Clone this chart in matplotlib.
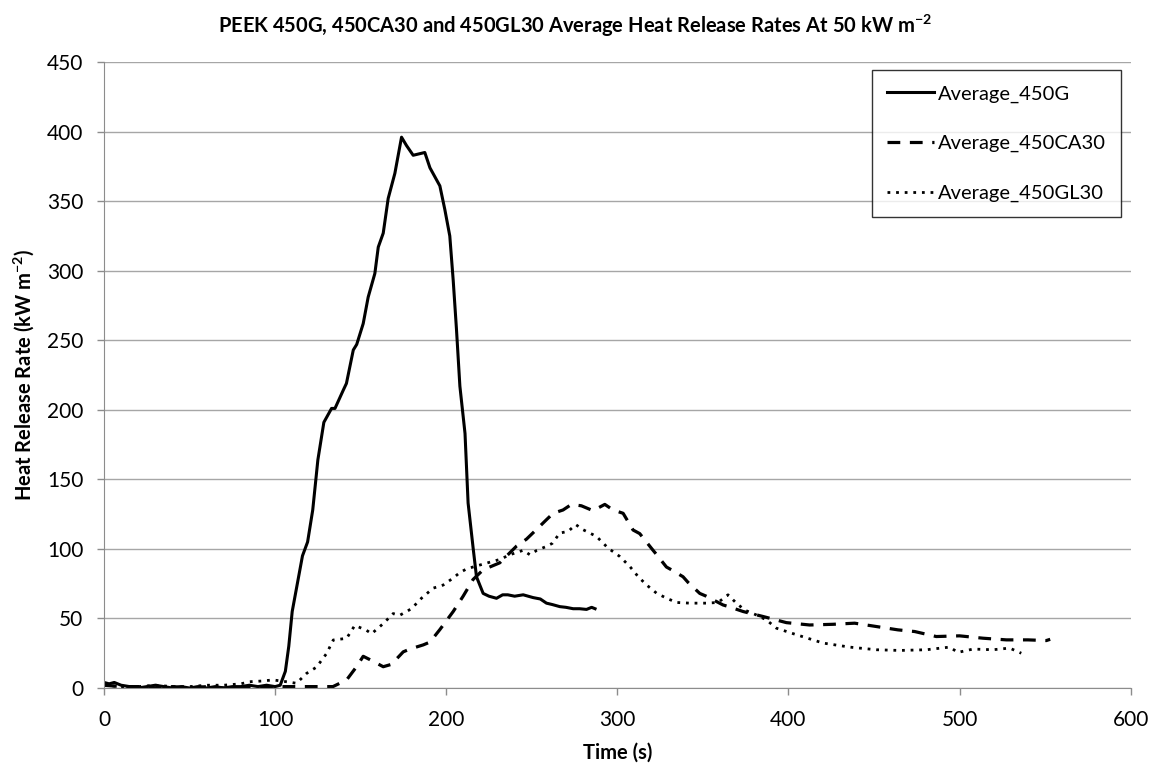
import matplotlib.pyplot as plt
import matplotlib
matplotlib.rcParams['font.family'] = ['Lato', 'DejaVu Sans']
matplotlib.rcParams['mathtext.fontset'] = 'custom'
matplotlib.rcParams['mathtext.rm'] = 'Lato'
matplotlib.rcParams['mathtext.bf'] = 'Lato:bold'

# Average_450G (solid)
t_450g = [0, 3, 6, 10, 15, 20, 25, 30, 35, 40, 45, 50, 55, 60, 65, 70, 75, 80, 85, 90, 95, 100, 103,
          106, 108, 110, 113, 116, 119, 122, 125, 128.5, 133, 135, 139.8, 141.7, 145.7, 147.7, 151.5,
          154.4, 158.3, 160.3, 163.2, 166.1, 170, 173.9, 176.8, 180.7, 187.5, 190.5, 196.3, 199.2,
          202.1, 204.1, 206, 208, 211, 212.8, 215.8, 217.7, 221.6, 225, 229.4, 233, 236, 240, 245,
          250.8, 255, 258.6, 262, 266.4, 270, 274.2, 278, 282, 285, 287]
v_450g = [4, 3, 4, 2, 1, 0, 1, 2, 1, 0, 1, 0, 1, 0, 1, 0, 1, 1, 2, 1, 2, 1, 2,
          12, 30, 55, 75, 95, 105, 128, 164, 191, 201, 201, 214, 219, 243, 247, 262,
          281, 298, 317, 327, 352, 370, 396, 390, 383, 385, 374, 361, 344,
          325, 293, 258, 217, 183, 133, 100, 80, 68, 66, 64.5, 67, 67, 66, 67,
          65, 64, 61, 60, 58.5, 58, 57, 57, 56.5, 58, 57]

# Average_450CA30 (dashed)
t_450ca30 = [0, 10, 20, 30, 40, 50, 60, 70, 80, 90, 100, 109.6, 120, 133.8, 141.8, 147.6, 151.5, 155.4,
             163.2, 168, 174.9, 178.8, 186.6, 190.5, 196.3, 204.1, 209.9, 215.7, 221.6, 231.3, 241.1,
             246.9, 252.8, 258.6, 262.5, 268.3, 273.2, 279, 285.8, 292.7, 297.5, 303.4, 309.2, 313.1,
             320.9, 322.9, 328.7, 331.6, 338.4, 341.3, 348.2, 352, 361.8, 364.8, 373.5, 385.2, 398.8,
             412.4, 426, 438.7, 451.4, 464, 473.8, 486.4, 500, 513.7, 527.4, 540, 550.7, 553]
v_450ca30 = [2, 1, 1, 0, 1, 0, 1, 0, 0, 1, 1, 1, 1, 1, 5.8, 15.3, 22.8, 20.4,
             15.3, 17, 26, 28, 31, 33, 42, 55, 66, 78, 85, 90, 102,
             107, 114, 121, 125.6, 128, 132, 131, 127.5, 132, 128, 125.6, 113.6, 111,
             99, 96, 87, 85, 80, 76, 68, 66, 59.7, 58.6, 55, 51.4, 47,
             45.3, 45.8, 46.6, 44.2, 41.8, 40.6, 37, 37.5, 35.8, 34.6, 34.6, 34.1, 35]

# Average_450GL30 (dotted)
t_450gl30 = [0, 10, 20, 30, 40, 50, 60, 70, 80, 85, 92, 98.9, 106.7, 112.5, 118.4, 124.2, 130.1, 134,
             141.8, 146.6, 153.4, 156.4, 163.2, 169, 172.9, 179.7, 185.6, 192.4, 198.2, 204, 208,
             211.9, 215.7, 223.6, 231.3, 237.2, 245, 248.9, 253, 258.6, 262, 266.4, 271.3, 275.7,
             280, 287.8, 294.6, 301.4, 307.3, 312.1, 317, 322.9, 328.7, 334.6, 342.4, 352.1, 358.9,
             364.7, 369.6, 374.5, 381.3, 387.1, 393, 404.7, 420.3, 435.8, 451.4, 465, 480.6, 494.2,
             499.1, 507.9, 519.5, 529.3, 536.1]
v_450gl30 = [2, 1, 1, 2, 1, 1, 2, 2, 3, 4.5, 5, 5.8, 4.5, 3.4, 10.5, 15, 24.8, 34.5,
             35.7, 45, 41.5, 39, 46.3, 53.5, 52.3, 57, 64.6, 71.8, 74, 79, 83,
             85.6, 87, 89.8, 92.4, 95.8, 99, 95.8, 99, 101.8, 104, 111.4, 112.6, 117.5,
             113.8, 109, 100.6, 94.6, 87.4, 80.2, 74.2, 68.2, 64.6, 61.5, 61, 61, 61.5,
             67, 61, 56, 52.5, 49, 43, 38.3, 32.3, 29.4, 27.5, 27, 27.5, 29.4,
             25.6, 28, 27.5, 28.7, 25]

x_ticks = [0, 100, 200, 300, 400, 500, 600]
y_ticks = [0, 50, 100, 150, 200, 250, 300, 350, 400, 450]

fig = plt.figure(figsize=(11.49, 7.76), dpi=100)
ax = fig.add_axes([0.0905, 0.1134, 0.8935, 0.8066])

ax.plot(t_450g, v_450g, color='black', linewidth=2.2, label='Average_450G')
ax.plot(t_450ca30, v_450ca30, color='black', linewidth=2.3, dashes=(4, 3), label='Average_450CA30')
ax.plot(t_450gl30, v_450gl30, color='black', linewidth=2.0, dashes=(1, 2.1), label='Average_450GL30')

ax.set_xlim(0, 600)
ax.set_ylim(0, 450)
ax.set_xticks(x_ticks)
ax.set_yticks(y_ticks)
ax.tick_params(axis='both', labelsize=15, colors='#8c8c8c', length=5, width=1, labelcolor='black')
ax.tick_params(axis='x', pad=11)
ax.tick_params(axis='y', pad=10)
ax.grid(axis='y', color='#a6a6a6', linewidth=1)
ax.set_axisbelow(True)
for s in ['top', 'right']:
    ax.spines[s].set_visible(False)
for s in ['left', 'bottom']:
    ax.spines[s].set_color('#8c8c8c')

ax.set_xlabel('Time (s)', fontsize=14.5, fontweight='bold', labelpad=9)
ax.set_ylabel(r'Heat Release Rate (kW m$\mathbf{^{-2}}$)', fontsize=14.5, fontweight='bold', labelpad=8)
fig.text(0.5, 0.9575, r'PEEK 450G, 450CA30 and 450GL30 Average Heat Release Rates At 50 kW m$\mathbf{^{-2}}$',
         fontsize=14.5, fontweight='bold', ha='center', va='baseline')

leg = ax.legend(loc='upper right', bbox_to_anchor=(0.9903, 0.987), fontsize=14.5, frameon=True,
                fancybox=False, edgecolor='black', handlelength=2.3, handletextpad=0.2,
                labelspacing=1.6, borderpad=0.75, borderaxespad=0)
leg.get_frame().set_linewidth(1)

plt.savefig('out.png', dpi=100)
plt.close()
